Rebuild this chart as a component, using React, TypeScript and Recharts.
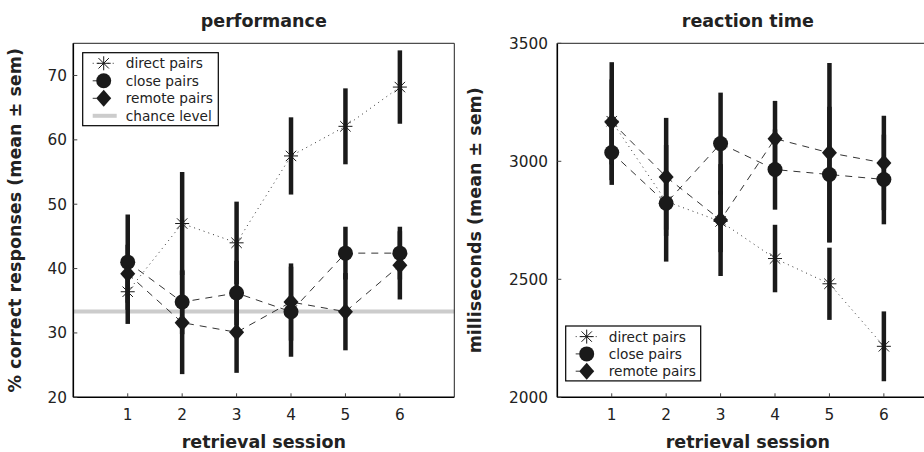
import React from 'react';
import { ComposedChart, Line, XAxis, YAxis, ErrorBar, ReferenceLine } from 'recharts';

// ---------- data ----------
const sessions = [1, 2, 3, 4, 5, 6];
const sessionTicks = [1, 2, 3, 4, 5, 6];

const perfDirect = [36.4, 47.0, 44.0, 57.5, 62.1, 68.2];
const perfDirectSem = [5.0, 8.0, 6.4, 6.0, 5.9, 5.7];
const perfClose = [41.0, 34.8, 36.2, 33.3, 42.4, 42.4];
const perfCloseSem = [7.4, 5.0, 5.0, 7.0, 4.1, 4.1];
const perfRemote = [39.2, 31.6, 30.1, 34.8, 33.3, 40.5];
const perfRemoteSem = [4.5, 8.0, 6.3, 6.0, 6.0, 5.3];
const chanceLevel = 33.33;
const perfTicks = [20, 30, 40, 50, 60, 70];

const rtDirect = [3170, 2830, 2745, 2588, 2481, 2216];
const rtDirectSem = [250, 120, 130, 143, 153, 148];
const rtClose = [3037, 2822, 3075, 2965, 2944, 2923];
const rtCloseSem = [137, 247, 216, 170, 287, 190];
const rtRemote = [3167, 2934, 2751, 3096, 3036, 2993];
const rtRemoteSem = [180, 250, 237, 160, 380, 200];
const rtTicks = [2000, 2500, 3000, 3500];

const perfData = sessions.map((s, i) => ({
  session: s,
  direct: perfDirect[i], directErr: perfDirectSem[i],
  close: perfClose[i], closeErr: perfCloseSem[i],
  remote: perfRemote[i], remoteErr: perfRemoteSem[i],
}));
const rtData = sessions.map((s, i) => ({
  session: s,
  direct: rtDirect[i], directErr: rtDirectSem[i],
  close: rtClose[i], closeErr: rtCloseSem[i],
  remote: rtRemote[i], remoteErr: rtRemoteSem[i],
}));

const FONT = "'DejaVu Sans', 'Liberation Sans', sans-serif";
const INK = '#1a1a1a';

// ---------- markers ----------
const Asterisk = ({ cx, cy }: { cx: number; cy: number }) => {
  const a = 7, d = 5.2;
  return (
    <g stroke={INK} strokeWidth={1}>
      <line x1={cx - a} y1={cy} x2={cx + a} y2={cy} />
      <line x1={cx} y1={cy - a} x2={cx} y2={cy + a} />
      <line x1={cx - d} y1={cy - d} x2={cx + d} y2={cy + d} />
      <line x1={cx - d} y1={cy + d} x2={cx + d} y2={cy - d} />
    </g>
  );
};
const Circle = ({ cx, cy }: { cx: number; cy: number }) => (
  <circle cx={cx} cy={cy} r={7.5} fill={INK} />
);
const Diamond = ({ cx, cy }: { cx: number; cy: number }) => (
  <polygon
    points={`${cx},${cy - 8.5} ${cx + 7.5},${cy} ${cx},${cy + 8.5} ${cx - 7.5},${cy}`}
    fill={INK}
  />
);

const dotAsterisk = (p: any) => <Asterisk key={`a${p.index}`} cx={p.cx} cy={p.cy} />;
const dotCircle = (p: any) => <Circle key={`c${p.index}`} cx={p.cx} cy={p.cy} />;
const dotDiamond = (p: any) => <Diamond key={`d${p.index}`} cx={p.cx} cy={p.cy} />;

const tickStyle = { fill: '#222', fontSize: 15.3, fontFamily: FONT };

type PanelProps = {
  data: any[];
  width: number;
  yAxisWidth: number;
  yDomain: [number, number];
  yTicks: number[];
  yTickMargin: number;
  chance?: number;
};

const Panel = ({ data, width, yAxisWidth, yDomain, yTicks, yTickMargin, chance }: PanelProps) => (
  <ComposedChart
    width={width}
    height={452}
    data={data}
    margin={{ top: 42.3, right: 14.7, bottom: 0, left: 0 }}
  >
    <XAxis
      dataKey="session"
      type="number"
      domain={[0, 7]}
      ticks={sessionTicks}
      interval={0}
      allowDataOverflow
      height={54.7}
      tickSize={-4}
      tickMargin={16}
      axisLine={{ stroke: '#000', strokeWidth: 1.6 }}
      tickLine={{ stroke: '#444' }}
      tick={tickStyle}
    />
    <XAxis
      xAxisId="top"
      orientation="top"
      dataKey="session"
      type="number"
      domain={[0, 7]}
      ticks={sessionTicks}
      interval={0}
      allowDataOverflow
      height={1}
      tickSize={-4}
      axisLine={{ stroke: '#222', strokeWidth: 1 }}
      tickLine={{ stroke: '#444' }}
      tick={false}
    />
    <YAxis
      type="number"
      domain={yDomain}
      ticks={yTicks}
      interval={0}
      allowDataOverflow
      width={yAxisWidth}
      tickSize={-4}
      tickMargin={yTickMargin}
      axisLine={{ stroke: '#000', strokeWidth: 1.6 }}
      tickLine={{ stroke: '#444' }}
      tick={tickStyle}
    />
    <YAxis
      yAxisId="right"
      orientation="right"
      type="number"
      domain={yDomain}
      ticks={yTicks}
      interval={0}
      allowDataOverflow
      width={1}
      tickSize={-4}
      axisLine={{ stroke: '#222', strokeWidth: 1 }}
      tickLine={{ stroke: '#444' }}
      tick={false}
    />
    {chance !== undefined && (
      <ReferenceLine y={chance} stroke="#cccccc" strokeWidth={4} />
    )}
    {/* invisible series binding the top and right (box) axes */}
    <Line
      xAxisId="top"
      yAxisId="right"
      dataKey="close"
      stroke="none"
      dot={false}
      activeDot={false}
      legendType="none"
      isAnimationActive={false}
    />
    <Line
      dataKey="direct"
      stroke="#333"
      strokeWidth={1}
      strokeDasharray="1 4"
      dot={dotAsterisk}
      activeDot={false}
      isAnimationActive={false}
    >
      <ErrorBar dataKey="directErr" direction="y" width={0} stroke={INK} strokeWidth={4.5} />
    </Line>
    <Line
      dataKey="close"
      stroke="#333"
      strokeWidth={1}
      strokeDasharray="7 6"
      dot={dotCircle}
      activeDot={false}
      isAnimationActive={false}
    >
      <ErrorBar dataKey="closeErr" direction="y" width={0} stroke={INK} strokeWidth={4.5} />
    </Line>
    <Line
      dataKey="remote"
      stroke="#333"
      strokeWidth={1}
      strokeDasharray="7 6"
      dot={dotDiamond}
      activeDot={false}
      isAnimationActive={false}
    >
      <ErrorBar dataKey="remoteErr" direction="y" width={0} stroke={INK} strokeWidth={4.5} />
    </Line>
  </ComposedChart>
);

type LegendItem = { label: string; kind: 'asterisk' | 'circle' | 'diamond' | 'chance' };
const leftLegendItems: LegendItem[] = [
  { label: 'direct pairs', kind: 'asterisk' },
  { label: 'close pairs', kind: 'circle' },
  { label: 'remote pairs', kind: 'diamond' },
  { label: 'chance level', kind: 'chance' },
];
const rightLegendItems: LegendItem[] = leftLegendItems.slice(0, 3);

const LegendBox = ({ x, y, w, rowH, items }: { x: number; y: number; w: number; rowH: number; items: LegendItem[] }) => {
  const h = items.length * rowH + 3;
  return (
    <g>
      <rect x={x} y={y} width={w} height={h} fill="#fff" stroke="#000" strokeWidth={1.2} />
      {items.map((it, i) => {
        const cy = y + 10.6 + i * rowH;
        const mx = x + 21;
        const seg =
          it.kind === 'chance' ? (
            <line x1={x + 10} y1={cy} x2={x + 34} y2={cy} stroke="#cccccc" strokeWidth={4} />
          ) : (
            <line
              x1={x + 10}
              y1={cy}
              x2={x + 34}
              y2={cy}
              stroke="#333"
              strokeWidth={1}
              strokeDasharray={it.kind === 'asterisk' ? '1 4' : '4 9'}
            />
          );
        let mk: React.ReactNode = null;
        if (it.kind === 'asterisk') mk = <Asterisk cx={mx} cy={cy} />;
        if (it.kind === 'circle') mk = <Circle cx={mx} cy={cy} />;
        if (it.kind === 'diamond') mk = <Diamond cx={mx} cy={cy} />;
        return (
          <g key={it.label}>
            {seg}
            {mk}
            <text x={x + 43} y={cy + 5} fontSize={13.7} fontFamily={FONT} fill="#222">
              {it.label}
            </text>
          </g>
        );
      })}
    </g>
  );
};

const boldText = { fontFamily: FONT, fontWeight: 700, fontSize: 17.5, fill: '#222' } as const;

export default function App() {
  return (
    <div
      style={{
        position: 'absolute',
        left: 0,
        top: 0,
        width: 924,
        height: 452,
        overflow: 'hidden',
        background: '#fff',
      }}
    >
      <div style={{ position: 'absolute', left: 0, top: 0 }}>
        <Panel
          data={perfData}
          width={470}
          yAxisWidth={73.3}
          yDomain={[20, 75]}
          yTicks={perfTicks}
          yTickMargin={10.3}
          chance={chanceLevel}
        />
      </div>
      <div style={{ position: 'absolute', left: 480, top: 0 }}>
        <Panel
          data={rtData}
          width={474}
          yAxisWidth={77.3}
          yDomain={[2000, 3500]}
          yTicks={rtTicks}
          yTickMargin={13.3}
        />
      </div>
      <svg
        width={924}
        height={452}
        style={{ position: 'absolute', left: 0, top: 0, pointerEvents: 'none' }}
      >
        <text x={263.8} y={26.7} textAnchor="middle" {...boldText}>performance</text>
        <text x={747.8} y={26.7} textAnchor="middle" {...boldText}>reaction time</text>
        <text x={263.8} y={448.3} textAnchor="middle" {...boldText}>retrieval session</text>
        <text x={747.8} y={448.3} textAnchor="middle" {...boldText}>retrieval session</text>
        <text transform="translate(21,220.3) rotate(-90)" textAnchor="middle" {...boldText}>
          % correct responses (mean ± sem)
        </text>
        <text transform="translate(481,220.3) rotate(-90)" textAnchor="middle" {...boldText}>
          milliseconds (mean ± sem)
        </text>
        <LegendBox x={82.7} y={52.7} w={135.6} rowH={17.5} items={leftLegendItems} />
        <LegendBox x={565.7} y={326} w={135} rowH={17.3} items={rightLegendItems} />
      </svg>
    </div>
  );
}
